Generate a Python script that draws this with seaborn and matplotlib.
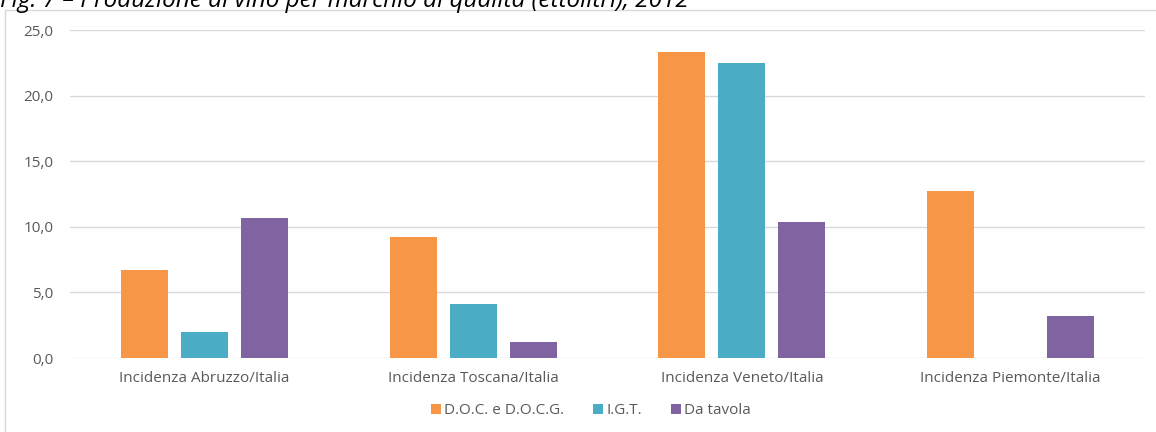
import matplotlib
matplotlib.use("Agg")
import matplotlib.pyplot as plt
import seaborn as sns
import pandas as pd
from matplotlib.patches import Rectangle
from matplotlib.lines import Line2D
from matplotlib.ticker import FuncFormatter

categories = ["Incidenza Abruzzo/Italia", "Incidenza Toscana/Italia",
              "Incidenza Veneto/Italia", "Incidenza Piemonte/Italia"]
series_names = ["D.O.C. e D.O.C.G.", "I.G.T.", "Da tavola"]
doc_docg = [6.7, 9.2, 23.3, 12.7]
igt = [2.0, 4.1, 22.5, 0.0]
da_tavola = [10.7, 1.2, 10.4, 3.2]
y_ticks = [0, 5, 10, 15, 20, 25]
title = "Fig. 7 \u2013 Produzione di vino per marchio di qualità (ettolitri), 2012"

colors = ["#F79646", "#4BACC6", "#8064A2"]

rows = []
for name, vals in zip(series_names, [doc_docg, igt, da_tavola]):
    for c, v in zip(categories, vals):
        rows.append({"cat": c, "serie": name, "val": v})
df = pd.DataFrame(rows)

sns.set_style("white")
plt.rcParams["font.family"] = ["Open Sans", "DejaVu Sans"]

fig = plt.figure(figsize=(11.56, 4.32), dpi=100)
ax = fig.add_axes([70 / 1156, 1 - 358 / 432, (1145 - 70) / 1156, (358 - 30) / 432])

sns.barplot(data=df, x="cat", y="val", hue="serie", order=categories,
            hue_order=series_names, palette=colors, width=0.67, gap=0.22,
            saturation=1, linewidth=0, ax=ax, legend=False, zorder=3)

ax.set_ylim(0, 25)
ax.set_xlim(-0.5, 3.5)
ax.set_yticks(y_ticks)
ax.yaxis.set_major_formatter(FuncFormatter(lambda v, p: f"{v:.1f}".replace(".", ",")))
ax.grid(axis="y", color="#D9D9D9", linewidth=1, zorder=0)
ax.set_axisbelow(True)
for s in ax.spines.values():
    s.set_visible(False)
ax.set_xlabel("")
ax.set_ylabel("")
ax.tick_params(axis="both", length=0, labelsize=11, colors="#595959")
ax.tick_params(axis="y", pad=12)
ax.tick_params(axis="x", pad=9)

handles = [Line2D([0], [0], marker="s", linestyle="", markersize=7.5,
                  markerfacecolor=c, markeredgewidth=0) for c in colors]
fig.legend(handles, series_names, loc="center", bbox_to_anchor=(590 / 1156, 1 - 411 / 432),
           ncol=3, frameon=False, fontsize=11, labelcolor="#595959",
           handletextpad=0.05, columnspacing=1.8, handlelength=0.9)

# outer chart frame
fig.patches.append(Rectangle((5 / 1156, -0.1), 1.2, 1 - 10 / 432 + 0.1,
                             transform=fig.transFigure, fill=False,
                             edgecolor="#D9D9D9", linewidth=1))

fig.text(0.0, 1 - 7 / 432, title, fontsize=17.5, style="italic", color="black",
         ha="left", va="baseline", family=["Open Sans", "DejaVu Sans"])

fig.savefig("out.png", dpi=100)
